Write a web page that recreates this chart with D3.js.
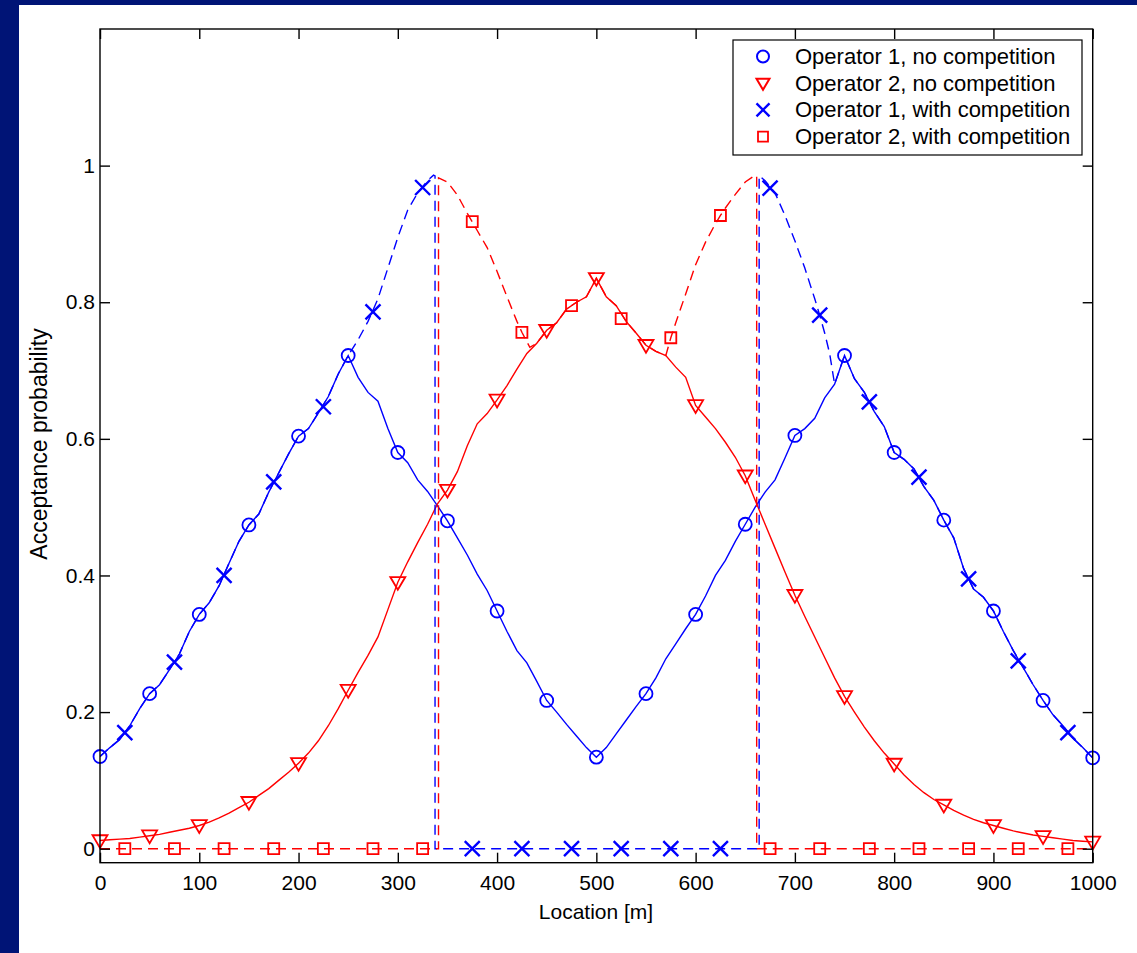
<!DOCTYPE html>
<html>
<head>
	<title>Acceptance probability</title>
	<script src="https://d3js.org/d3.v7.min.js"></script>
	<style>
		html, body { margin: 0; padding: 0; background: #001476; }
		svg { display: block; }
		text { font-family: "Liberation Sans", Arial, Helvetica, sans-serif; fill: #000; }
	</style>
</head>
<body>
<section id="container"></section>
<script>

//Sample locations, one every 10 m
var locations = d3.range(0, 1001, 10);

//Operator 1, no competition (10 m steps)
var op1NoComp = [
	0.135, 0.148, 0.160, 0.180, 0.205, 0.227, 0.240, 0.262, 0.285, 0.318,
	0.343, 0.360, 0.385, 0.418, 0.450, 0.474, 0.490, 0.522, 0.550, 0.578,
	0.604, 0.615, 0.638, 0.662, 0.695, 0.722, 0.690, 0.668, 0.655, 0.615,
	0.580, 0.565, 0.540, 0.523, 0.502, 0.480, 0.455, 0.430, 0.402, 0.378,
	0.348, 0.318, 0.290, 0.272, 0.245, 0.217, 0.200, 0.182, 0.165, 0.148,
	0.134, 0.148, 0.168, 0.188, 0.208, 0.227, 0.250, 0.278, 0.300, 0.322,
	0.343, 0.370, 0.400, 0.422, 0.450, 0.475, 0.500, 0.522, 0.540, 0.572,
	0.605, 0.615, 0.630, 0.660, 0.680, 0.722, 0.688, 0.668, 0.640, 0.618,
	0.580, 0.570, 0.556, 0.530, 0.510, 0.481, 0.455, 0.410, 0.380, 0.368,
	0.348, 0.318, 0.290, 0.265, 0.240, 0.217, 0.196, 0.180, 0.162, 0.148,
	0.133
];

//Operator 2, no competition (10 m steps)
var op2NoComp = [
	0.012, 0.013, 0.014, 0.015, 0.017, 0.019, 0.021, 0.024, 0.027, 0.030,
	0.034, 0.039, 0.045, 0.052, 0.060, 0.068, 0.078, 0.088, 0.100, 0.112,
	0.125, 0.140, 0.158, 0.180, 0.205, 0.232, 0.258, 0.283, 0.310, 0.350,
	0.390, 0.420, 0.448, 0.475, 0.505, 0.525, 0.552, 0.590, 0.622, 0.637,
	0.657, 0.678, 0.702, 0.725, 0.740, 0.759, 0.770, 0.790, 0.800, 0.808,
	0.835, 0.808, 0.795, 0.772, 0.755, 0.737, 0.728, 0.722, 0.705, 0.690,
	0.649, 0.632, 0.615, 0.595, 0.573, 0.546, 0.510, 0.475, 0.440, 0.405,
	0.371, 0.340, 0.310, 0.280, 0.250, 0.223, 0.200, 0.178, 0.158, 0.140,
	0.124, 0.108, 0.094, 0.082, 0.072, 0.064, 0.056, 0.049, 0.043, 0.038,
	0.034, 0.030, 0.026, 0.023, 0.020, 0.018, 0.016, 0.014, 0.012, 0.011,
	0.010
];

//Operator 1, with competition: where it leaves the no-competition curve
var op1CompLeftPeak = [[260,0.745],[270,0.772],[280,0.805],[290,0.850],[300,0.895],[310,0.935],[320,0.960],[330,0.978],[336,0.986],[337.5,0.985],[337.5,0]];
var op1CompRightPeak = [[664,0],[664,0.985],[670,0.978],[680,0.960],[690,0.927],[700,0.890],[710,0.850],[720,0.805],[725,0.781],[730,0.755],[735,0.725],[740,0.680]];

//Operator 2, with competition: where it leaves the no-competition curve
var op2CompLeftPeak = [[0,0],[341,0],[341,0.982],[350,0.976],[360,0.957],[370,0.930],[380,0.905],[390,0.880],[400,0.845],[410,0.808],[420,0.772],[425,0.756],[433,0.734]];
var op2CompRightPeak = [[575,0.748],[580,0.770],[590,0.812],[600,0.855],[610,0.888],[620,0.915],[625,0.927],[630,0.938],[640,0.958],[650,0.976],[660,0.986],[661.5,0.985],[661.5,0],[1000,0]];

//Marker positions for the with-competition curves
var compMarkLocs = [25, 75, 125, 175, 225, 275, 325, 375, 425, 475, 525, 575, 625, 675, 725, 775, 825, 875, 925, 975];
var op1CompMarks = [0.170, 0.273, 0.400, 0.537, 0.647, 0.786, 0.968, 0, 0, 0, 0, 0, 0, 0.967, 0.781, 0.654, 0.544, 0.395, 0.275, 0.170];
var op2CompMarks = [0, 0, 0, 0, 0, 0, 0, 0.918, 0.756, 0.795, 0.776, 0.748, 0.927, 0, 0, 0, 0, 0, 0, 0];

//Axis ticks
var xTicks = d3.range(0, 1001, 100);
var yTicks = [0, 0.2, 0.4, 0.6, 0.8, 1];

var legendLabels = ["Operator 1, no competition", "Operator 2, no competition", "Operator 1, with competition", "Operator 2, with competition"];

var blue = "#0000ff", red = "#ff0000";

var width = 1137, height = 953;

var svg = d3.select("#container")
	.append("svg")
	.attr("width", width)
	.attr("height", height);

//White slide panel over the navy background
svg.append("rect")
	.attr("x", 19).attr("y", 5)
	.attr("width", width - 19).attr("height", height - 5)
	.attr("fill", "#fff");

var x = d3.scaleLinear().domain([0, 1000]).range([100, 1092.7]);
var y = d3.scaleLinear().domain([-0.0205, 1.2]).range([862.7, 29]);

var plot = svg.append("g");

plot.append("clipPath").attr("id", "plotClip")
	.append("rect")
	.attr("x", x(0)).attr("y", y(1.2))
	.attr("width", x(1000) - x(0)).attr("height", y(-0.0205) - y(1.2));

var line = d3.line().x(function(d) { return x(d[0]); }).y(function(d) { return y(d[1]); });

var op1Points = locations.map(function(l, i) { return [l, op1NoComp[i]]; });
var op2Points = locations.map(function(l, i) { return [l, op2NoComp[i]]; });

var op1Comp = op1Points.filter(function(d) { return d[0] <= 250; })
	.concat(op1CompLeftPeak, op1CompRightPeak, op1Points.filter(function(d) { return d[0] >= 750; }));
var op2Comp = op2CompLeftPeak
	.concat(op2Points.filter(function(d) { return d[0] >= 440 && d[0] <= 570; }), op2CompRightPeak);

var curves = plot.append("g").attr("clip-path", "url(#plotClip)");

//Solid curves
curves.append("path").datum(op1Points)
	.attr("d", line).attr("fill", "none").attr("stroke", blue).attr("stroke-width", 1.4);
curves.append("path").datum(op2Points)
	.attr("d", line).attr("fill", "none").attr("stroke", red).attr("stroke-width", 1.4);

//Dashed curves
curves.append("path").datum(op1Comp)
	.attr("d", line).attr("fill", "none").attr("stroke", blue).attr("stroke-width", 1.4)
	.attr("stroke-dasharray", "10,6");
curves.append("path").datum(op2Comp)
	.attr("d", line).attr("fill", "none").attr("stroke", red).attr("stroke-width", 1.4)
	.attr("stroke-dasharray", "10,6");

//Marker shapes
var triPath = function(s) { return "M" + (-s) + "," + (-s * 0.7) + "L" + s + "," + (-s * 0.7) + "L0," + s + "Z"; };
var xPath = function(s) { return "M" + (-s) + "," + (-s) + "L" + s + "," + s + "M" + (-s) + "," + s + "L" + s + "," + (-s); };
var sqPath = function(s) { return "M" + (-s) + "," + (-s) + "H" + s + "V" + s + "H" + (-s) + "Z"; };

var marks = plot.append("g");

marks.selectAll("circle.op1")
	.data(op1Points.filter(function(d) { return d[0] % 50 === 0; }))
	.enter().append("circle")
	.attr("cx", function(d) { return x(d[0]); })
	.attr("cy", function(d) { return y(d[1]); })
	.attr("r", 6.5)
	.attr("fill", "none").attr("stroke", blue).attr("stroke-width", 1.8);

marks.selectAll("path.op2")
	.data(op2Points.filter(function(d) { return d[0] % 50 === 0; }))
	.enter().append("path")
	.attr("transform", function(d) { return "translate(" + x(d[0]) + "," + y(d[1]) + ")"; })
	.attr("d", triPath(7.5))
	.attr("fill", "none").attr("stroke", red).attr("stroke-width", 1.8);

marks.selectAll("path.op1c")
	.data(compMarkLocs.map(function(l, i) { return [l, op1CompMarks[i]]; }))
	.enter().append("path")
	.attr("transform", function(d) { return "translate(" + x(d[0]) + "," + y(d[1]) + ")"; })
	.attr("d", xPath(7.5))
	.attr("fill", "none").attr("stroke", blue).attr("stroke-width", 2.4);

marks.selectAll("path.op2c")
	.data(compMarkLocs.map(function(l, i) { return [l, op2CompMarks[i]]; }))
	.enter().append("path")
	.attr("transform", function(d) { return "translate(" + x(d[0]) + "," + y(d[1]) + ")"; })
	.attr("d", sqPath(5.5))
	.attr("fill", "none").attr("stroke", red).attr("stroke-width", 1.8);

//Axes, ticks pointing inward on all four sides
var yFmt = function(d) { return d === 0 ? "0" : d === 1 ? "1" : d3.format(".1f")(d); };

var axisBottom = plot.append("g").attr("transform", "translate(0," + y(-0.0205) + ")")
	.call(d3.axisBottom(x).tickValues(xTicks).tickSizeInner(-10).tickSizeOuter(0).tickPadding(12).tickFormat(d3.format("d")));
var axisTop = plot.append("g").attr("transform", "translate(0," + y(1.2) + ")")
	.call(d3.axisTop(x).tickValues(xTicks).tickSizeInner(-10).tickSizeOuter(0).tickFormat(""));
var axisLeft = plot.append("g").attr("transform", "translate(" + x(0) + ",0)")
	.call(d3.axisLeft(y).tickValues(yTicks).tickSizeInner(-10).tickSizeOuter(0).tickPadding(5).tickFormat(yFmt));
var axisRight = plot.append("g").attr("transform", "translate(" + x(1000) + ",0)")
	.call(d3.axisRight(y).tickValues(yTicks).tickSizeInner(-10).tickSizeOuter(0).tickFormat(""));

[axisBottom, axisTop, axisLeft, axisRight].forEach(function(a) {
	a.select(".domain").remove();
	a.selectAll("line").attr("stroke", "#000").attr("stroke-width", 1.4);
	a.selectAll("text").style("font-size", "21px").attr("fill", "#000")
		.style("font-family", "'Liberation Sans', Arial, sans-serif");
});

plot.append("rect")
	.attr("x", x(0)).attr("y", y(1.2))
	.attr("width", x(1000) - x(0)).attr("height", y(-0.0205) - y(1.2))
	.attr("fill", "none").attr("stroke", "#000").attr("stroke-width", 1.4);

//Axis titles
svg.append("text")
	.attr("x", 596).attr("y", 919)
	.attr("text-anchor", "middle")
	.style("font-size", "21px")
	.text("Location [m]");

svg.append("text")
	.attr("transform", "translate(47,444) rotate(-90)")
	.attr("text-anchor", "middle")
	.style("font-size", "23px")
	.text("Acceptance probability");

//Legend
var legend = svg.append("g");
legend.append("rect")
	.attr("x", 733).attr("y", 40).attr("width", 349).attr("height", 115)
	.attr("fill", "#fff").attr("stroke", "#000").attr("stroke-width", 1.2);

var legendMarks = [
	function(g) { g.append("circle").attr("r", 6).attr("fill", "none").attr("stroke", blue).attr("stroke-width", 2); },
	function(g) { g.append("path").attr("d", triPath(6.5)).attr("fill", "none").attr("stroke", red).attr("stroke-width", 2); },
	function(g) { g.append("path").attr("d", xPath(6.5)).attr("fill", "none").attr("stroke", blue).attr("stroke-width", 2.4); },
	function(g) { g.append("path").attr("d", sqPath(5)).attr("fill", "none").attr("stroke", red).attr("stroke-width", 1.8); }
];

legendLabels.forEach(function(label, i) {
	var cy = 56.5 + i * 26.7;
	var g = legend.append("g").attr("transform", "translate(763," + cy + ")");
	legendMarks[i](g);
	legend.append("text")
		.attr("x", 795).attr("y", cy + 7.5)
		.style("font-size", "22px")
		.text(label);
});

</script>
</body>
</html>
